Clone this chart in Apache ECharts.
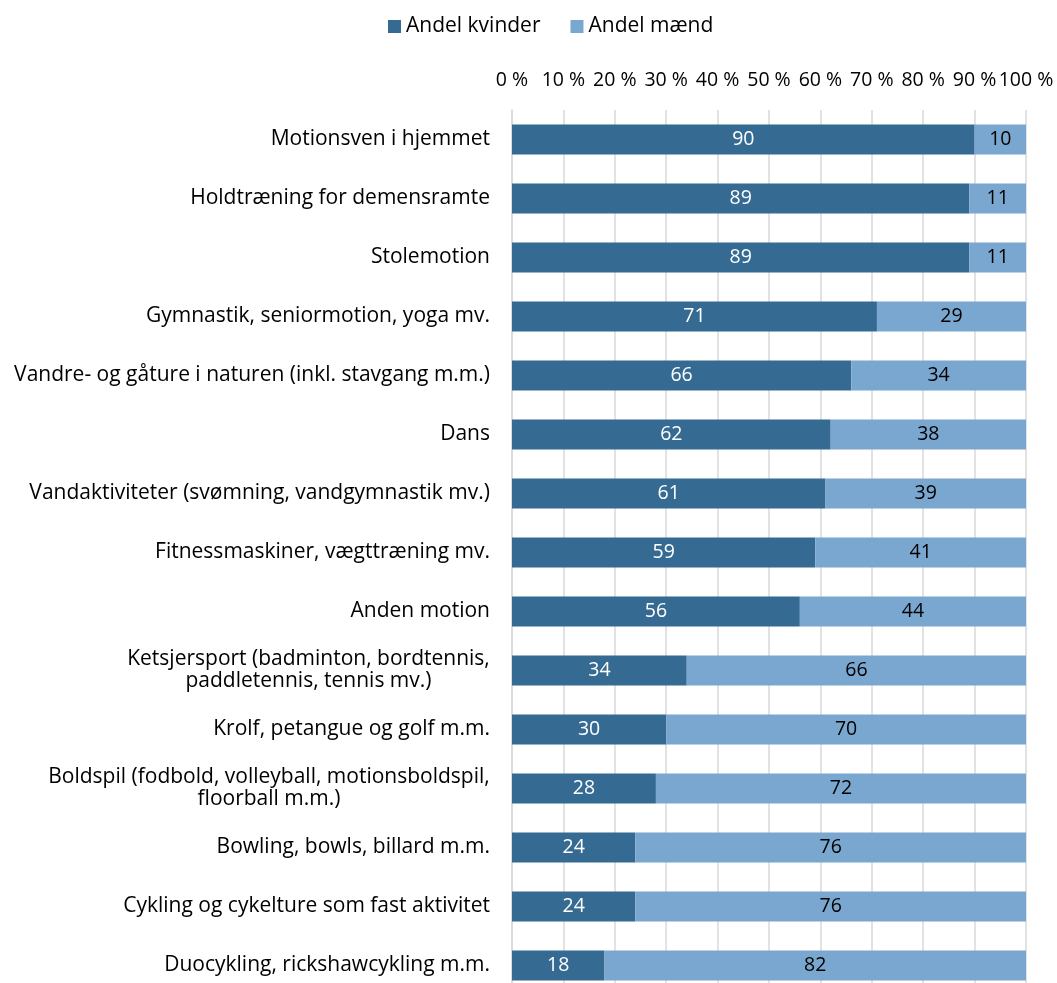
<!DOCTYPE html>
<html>
<head>
<meta charset="utf-8">
<script src="https://cdn.jsdelivr.net/npm/echarts@6/dist/echarts.min.js"></script>
<style>
html,body{margin:0;padding:0;background:#fff;}
#chart{width:1057px;height:983px;}
</style>
</head>
<body>
<div id="chart"></div>
<script>
const categories = [
  "Motionsven i hjemmet",
  "Holdtræning for demensramte",
  "Stolemotion",
  "Gymnastik, seniormotion, yoga mv.",
  "Vandre- og gåture i naturen (inkl. stavgang m.m.)",
  "Dans",
  "Vandaktiviteter (svømning, vandgymnastik mv.)",
  "Fitnessmaskiner, vægttræning mv.",
  "Anden motion",
  "Ketsjersport (badminton, bordtennis,\npaddletennis, tennis mv.)",
  "Krolf, petangue og golf m.m.",
  "Boldspil (fodbold, volleyball, motionsboldspil,\nfloorball m.m.)",
  "Bowling, bowls, billard m.m.",
  "Cykling og cykelture som fast aktivitet",
  "Duocykling, rickshawcykling m.m."
];
const kvinder = [90, 89, 89, 71, 66, 62, 61, 59, 56, 34, 30, 28, 24, 24, 18];
const maend = [10, 11, 11, 29, 34, 38, 39, 41, 44, 66, 70, 72, 76, 76, 82];
const seriesNames = ["Andel kvinder", "Andel mænd"];

const FONT = "Open Sans";
const FS = 19.5;   // numbers
const FC = 21;     // category + legend text

// measure lines so multi-line labels can be centred as a block
const cv = document.createElement('canvas').getContext('2d');
cv.font = FC + 'px "' + FONT + '"';
const rich = {};
categories.forEach(function (c, i) {
  const lines = c.split('\n');
  if (lines.length > 1) {
    const w = Math.max.apply(null, lines.map(function (l) { return cv.measureText(l).width; }));
    rich['m' + i] = { width: Math.ceil(w), align: 'center', fontFamily: FONT, fontSize: FC, color: '#000', lineHeight: 22 };
  }
});

const chart = echarts.init(document.getElementById('chart'));
chart.setOption({
  animation: false,
  textStyle: { fontFamily: FONT },
  legend: {
    top: 11,
    left: 383,
    itemWidth: 13,
    itemHeight: 13,
    itemGap: 30,
    icon: 'rect',
    textStyle: { fontFamily: FONT, fontSize: FC, color: '#000' },
    data: seriesNames
  },
  grid: {
    left: 512, top: 110, width: 514, height: 885,
    containLabel: false, outerBoundsMode: 'none'
  },
  xAxis: {
    type: 'value',
    position: 'top',
    min: 0, max: 100, interval: 10,
    axisLine: { show: false },
    axisTick: { show: false },
    axisLabel: {
      formatter: '{value} %',
      fontFamily: FONT, fontSize: FS, color: '#000', margin: 20
    },
    splitLine: { show: true, lineStyle: { color: '#d9d9d9', width: 1.5 } }
  },
  yAxis: {
    type: 'category',
    inverse: true,
    data: categories,
    axisLine: { show: true, lineStyle: { color: '#d9d9d9', width: 1.5 } },
    axisTick: { show: false },
    axisLabel: {
      margin: 22,
      fontFamily: FONT, fontSize: FC, color: '#000', lineHeight: 22,
      formatter: function (v, i) {
        const lines = v.split('\n');
        if (lines.length === 1) return v;
        return lines.map(function (l) { return '{m' + i + '|' + l + '}'; }).join('\n');
      },
      rich: rich
    }
  },
  series: [
    {
      name: seriesNames[0], type: 'bar', stack: 'total', data: kvinder,
      barCategoryGap: '49%',
      itemStyle: { color: '#356b92' },
      label: { show: true, position: 'inside', color: '#fff', fontFamily: FONT, fontSize: FS }
    },
    {
      name: seriesNames[1], type: 'bar', stack: 'total', data: maend,
      barCategoryGap: '49%',
      itemStyle: { color: '#7aa7cf' },
      label: { show: true, position: 'inside', color: '#000', fontFamily: FONT, fontSize: FS }
    }
  ]
});
</script>
</body>
</html>
